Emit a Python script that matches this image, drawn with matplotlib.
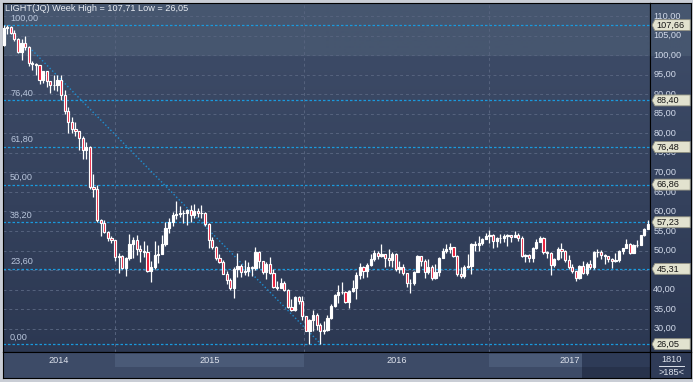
import numpy as np
import matplotlib
matplotlib.use('Agg')
import matplotlib.pyplot as plt
import matplotlib.transforms as mtransforms
from matplotlib.patches import Rectangle, Polygon
from matplotlib.colors import to_rgb

plt.rcParams['font.family'] = ['Liberation Sans', 'DejaVu Sans']

# weekly candles Jun 2014 - Nov 2017 (turn of 2014/15 comes as two short candles)
opens = [
    # 2014
    102.6, 106.9, 107.3, 105.7, 104.1, 100.8, 103.1, 102.1, 97.9, 97.7, 97.4, 93.7, 96.0, 93.3, 92.3,
    92.4, 93.5, 89.7, 85.8, 82.8, 81.0, 80.5, 78.7, 75.8, 76.5, 66.2, 65.8, 57.8, 57.1,
    54.7, 53.3,
    # 2015
    52.7, 48.4, 48.7, 45.6, 48.2, 51.7, 52.8, 50.3, 49.8, 49.6, 44.8, 45.7, 48.9, 49.1, 51.6, 55.7,
    57.2, 59.2, 59.4, 59.7, 59.7, 60.3, 59.1, 60.0, 59.6, 59.6, 56.9, 52.7, 50.9, 48.1, 47.1, 43.9,
    42.5, 40.5, 45.2, 46.1, 44.6, 44.7, 45.7, 45.5, 49.6, 47.3, 44.6, 46.6, 44.3, 40.7, 40.4, 41.7,
    40.0, 35.6, 34.7, 38.1,
    # 2016
    37.0, 33.2, 29.4, 32.2, 33.6, 30.9, 29.4, 29.6, 32.8, 35.9, 38.5, 39.4, 39.5, 36.8, 39.7, 40.4,
    43.7, 45.9, 44.7, 46.2, 47.8, 49.3, 48.6, 49.1, 48.0, 47.6, 49.0, 45.4, 45.9, 44.2, 41.6, 41.8,
    44.5, 48.5, 47.3, 44.4, 45.9, 43.0, 44.5, 48.2, 49.8, 50.4, 50.9, 48.7, 44.1, 43.4, 45.7, 46.1,
    51.7, 51.5, 51.9, 53.0,
    # 2017
    53.7, 54.0, 52.4, 53.2, 53.2, 53.8, 53.9, 53.4, 54.0, 53.3, 48.5, 48.8, 48.0, 50.6, 52.2, 53.2,
    49.6, 49.3, 46.2, 47.8, 50.3, 49.8, 47.7, 45.8, 44.7, 43.0, 46.0, 44.2, 46.5, 45.8, 49.7, 49.6,
    48.8, 48.5, 47.9, 47.3, 47.5, 49.9, 50.7, 51.7, 49.3, 51.5, 51.5, 53.9, 55.6,
]
highs = [
    107.7, 107.7, 107.5, 106.5, 104.3, 104.0, 105.0, 102.2, 98.5, 98.0, 97.5, 96.0, 96.0, 93.4, 95.0,
    95.0, 95.0, 91.0, 86.7, 84.1, 82.8, 80.7, 79.2, 77.8, 76.8, 69.7, 66.7, 58.0, 57.9,
    55.1, 53.6,
    52.7, 49.3, 48.9, 48.3, 54.2, 53.4, 54.0, 51.3, 52.5, 51.3, 47.3, 52.5, 51.4, 54.0, 57.4, 58.4,
    59.9, 62.6, 61.4, 60.4, 60.5, 61.7, 61.8, 61.0, 61.6, 59.8, 57.0, 53.5, 51.2, 49.1, 47.6, 44.7,
    42.9, 45.9, 49.3, 46.5, 47.7, 47.0, 46.0, 50.9, 49.9, 47.4, 47.0, 48.4, 45.3, 42.2, 43.0, 42.3,
    40.1, 37.7, 38.3, 38.4,
    38.4, 33.2, 32.4, 34.8, 34.0, 31.5, 31.9, 33.5, 36.4, 38.8, 41.2, 41.9, 39.6, 39.8, 42.4, 44.5,
    46.8, 46.0, 46.9, 49.0, 50.2, 50.0, 51.7, 49.1, 50.5, 49.5, 49.3, 47.4, 46.5, 44.2, 42.6, 44.8,
    48.8, 48.7, 47.8, 47.8, 46.2, 46.6, 48.3, 50.7, 51.6, 51.9, 51.0, 48.8, 45.9, 46.2, 49.2, 51.8,
    52.4, 53.8, 53.2, 54.4,
    55.2, 54.1, 53.5, 54.3, 54.1, 54.1, 54.0, 54.9, 54.6, 53.8, 49.1, 49.0, 50.9, 52.9, 53.8, 53.4,
    49.8, 49.5, 48.0, 50.8, 52.0, 50.2, 48.8, 46.5, 44.7, 46.2, 47.3, 47.0, 47.5, 49.8, 50.4, 50.2,
    49.0, 48.7, 48.0, 49.4, 50.2, 50.7, 52.9, 51.8, 51.6, 52.8, 54.0, 55.7, 57.7,
]
lows = [
    102.4, 105.5, 105.3, 103.6, 100.6, 98.8, 101.4, 97.1, 96.3, 95.0, 92.5, 92.8, 91.9, 90.4, 91.0,
    90.9, 88.6, 84.8, 80.0, 80.1, 79.4, 75.8, 73.3, 73.3, 65.7, 63.7, 57.3, 53.6, 54.5,
    52.4, 52.0,
    47.4, 44.2, 45.2, 43.6, 47.6, 48.2, 48.9, 47.0, 48.4, 44.4, 42.0, 45.4, 46.7, 49.0, 51.1, 54.6,
    56.2, 58.1, 58.7, 57.1, 56.5, 57.2, 58.2, 58.7, 58.4, 56.4, 50.6, 50.4, 47.7, 46.7, 43.9, 41.4,
    39.9, 37.8, 43.2, 43.2, 43.7, 43.6, 43.6, 45.1, 45.6, 43.9, 42.6, 44.0, 40.5, 39.9, 40.3, 39.6,
    35.4, 34.5, 34.6, 36.4,
    32.1, 29.3, 26.2, 29.3, 29.6, 26.05, 28.6, 29.5, 32.6, 35.6, 36.6, 38.9, 36.5, 35.2, 39.3, 37.6,
    42.7, 43.0, 43.3, 46.0, 47.3, 47.8, 48.3, 45.8, 46.0, 45.8, 44.8, 44.3, 43.8, 40.6, 39.2, 41.1,
    44.4, 46.1, 43.0, 43.9, 42.5, 42.8, 43.4, 48.0, 49.4, 49.3, 48.4, 43.6, 43.0, 43.0, 45.6, 43.9,
    49.9, 49.9, 51.3, 52.9,
    51.8, 50.7, 50.9, 51.8, 52.3, 51.2, 52.1, 53.4, 52.5, 48.3, 47.1, 47.0, 47.1, 50.3, 52.2, 49.2,
    48.2, 43.8, 45.8, 47.6, 48.2, 47.0, 45.2, 44.2, 42.1, 42.8, 43.9, 43.8, 45.4, 45.4, 48.4, 47.8,
    46.5, 47.0, 45.6, 47.0, 47.0, 49.2, 50.6, 49.1, 49.3, 51.0, 51.3, 53.8, 55.6,
]
closes = [
    106.9, 107.3, 105.7, 104.1, 100.8, 103.1, 102.1, 97.9, 97.7, 97.4, 93.7, 96.0, 93.3, 92.3, 92.4,
    93.5, 89.7, 85.8, 82.8, 81.0, 80.5, 78.7, 75.8, 76.5, 66.2, 65.8, 57.8, 57.1, 54.7,
    53.3, 52.7,
    48.4, 48.7, 45.6, 48.2, 51.7, 52.8, 50.3, 49.8, 49.6, 44.8, 45.7, 48.9, 49.1, 51.6, 55.7, 57.2,
    59.2, 59.4, 59.7, 59.7, 60.3, 59.1, 60.0, 59.6, 59.6, 56.9, 52.7, 50.9, 48.1, 47.1, 43.9, 42.5,
    40.5, 45.2, 46.1, 44.6, 44.7, 45.7, 45.5, 49.6, 47.3, 44.6, 46.6, 44.3, 40.7, 40.4, 41.7, 40.0,
    35.6, 34.7, 38.1, 37.0,
    33.2, 29.4, 32.2, 33.6, 30.9, 29.4, 29.6, 32.8, 35.9, 38.5, 39.4, 39.5, 36.8, 39.7, 40.4, 43.7,
    45.9, 44.7, 46.2, 47.8, 49.3, 48.6, 49.1, 48.0, 47.6, 49.0, 45.4, 45.9, 44.2, 41.6, 41.8, 44.5,
    48.5, 47.3, 44.4, 45.9, 43.0, 44.5, 48.2, 49.8, 50.4, 50.9, 48.7, 44.1, 43.4, 45.7, 46.1, 51.7,
    51.5, 51.9, 53.0, 53.7,
    54.0, 52.4, 53.2, 53.2, 53.8, 53.9, 53.4, 54.0, 53.3, 48.5, 48.8, 48.0, 50.6, 52.2, 53.2, 49.6,
    49.3, 46.2, 47.8, 50.3, 49.8, 47.7, 45.8, 44.7, 43.0, 46.0, 44.2, 46.5, 45.8, 49.7, 49.6, 48.8,
    48.5, 47.9, 47.3, 47.5, 49.9, 50.7, 51.7, 49.3, 51.5, 51.5, 53.9, 55.6, 56.7,
]

fib_ratios = ['100,00', '76,40', '61,80', '50,00', '38,20', '23,60', '0,00']
fib_prices = [107.66, 88.40, 76.48, 66.86, 57.23, 45.31, 26.05]
fib_tags = ['107,66', '88,40', '76,48', '66,86', '57,23', '45,31', '26,05']
price_ticks = [30, 35, 40, 45, 50, 55, 60, 65, 70, 75, 80, 85, 90, 95, 100, 105, 110]
years = ['2014', '2015', '2016', '2017']
year_starts = [31, 83.5, 135]      # first candle of each new year
axis_band_end = 160.7
trend_x = [7.9, 88.2]
trend_y = [101.3, 26.05]
title = 'LIGHT(JQ) Week High = 107,71 Low = 26,05'

W, H = 693, 382
XLIM = (-0.14, 179.6)
YLIM = (24.04, 113.32)
txt_col = '#dde2ec'
fs = 6.6


def box(x0, y0, x1, y1):
    return [x0 / W, 1 - y1 / H, (x1 - x0) / W, (y1 - y0) / H]


def gradient(a):
    n = 349
    top, c1, c2 = np.array(to_rgb('#46566f')), np.array(to_rgb('#3c4a66')), np.array(to_rgb('#2c3852'))
    img = np.zeros((n, 1, 3))
    for r in range(n):
        if r < 54:
            img[r, 0] = top
        else:
            t = (r - 54) / (n - 54)
            img[r, 0] = c1 * (1 - t) + c2 * t
    a.imshow(img, extent=[0, 1, 0, 1], transform=a.transAxes, aspect='auto', zorder=0)


fig = plt.figure(figsize=(W / 100, H / 100), dpi=100, facecolor='#c9cdd5')
ax = fig.add_axes(box(3, 3, 650, 352))
ax_r = fig.add_axes(box(650, 3, 691, 352))
ax_b = fig.add_axes(box(3, 352, 650, 378))
ax_c = fig.add_axes(box(650, 352, 691, 378))

gradient(ax)
gradient(ax_r)

o = np.array(opens)
h = np.array(highs)
l = np.array(lows)
c = np.array(closes)
x = np.arange(len(c))

# grid
for p in price_ticks:
    ax.axhline(p, color='#56637e', lw=0.7, ls=(0, (3, 3)), zorder=1)
for ys in year_starts:
    ax.axvline(ys, color='#56637e', lw=0.7, ls=(0, (3, 3)), zorder=1)

# fibonacci levels
for r, p in zip(fib_ratios, fib_prices):
    ax.axhline(p, color='#1a9ade', lw=0.9, ls=(0, (2, 1.6)), zorder=2)
    ax.annotate(r, xy=(0.011, p), xycoords=ax.get_yaxis_transform(), xytext=(0, 2),
                textcoords='offset points', va='bottom', ha='left', color='#b9c6dc', fontsize=fs)

ax.plot(trend_x, trend_y, color='#1e8fd2', lw=1.0, ls=(0, (1, 1.6)), zorder=2)

# candles
up = c >= o
ax.vlines(x, l, h, color='white', lw=0.9, zorder=3)
ax.bar(x, np.abs(c - o), bottom=np.minimum(o, c), width=0.62,
       color=np.where(up, 'white', '#e8102f'), edgecolor='white', linewidth=0.85, zorder=4)

ax.text(0.003, 0.997, title, transform=ax.transAxes, va='top', ha='left', color='#e8ecf2', fontsize=fs)

ax.set_xlim(*XLIM)
ax.set_ylim(*YLIM)

# right price scale (the fib tags sit on top of the scale, as in the original)
ax_r.set_xlim(0, 1)
ax_r.set_ylim(*YLIM)
bt = mtransforms.blended_transform_factory(ax_r.transAxes, ax_r.transData)
for p in price_ticks:
    ax_r.text(0.08, p, '%d,00' % p, transform=bt, va='center', ha='left', color='#d2daea', fontsize=fs)
for p, t in zip(fib_prices, fib_tags):
    ax_r.add_patch(Polygon([[0.05, p], [0.12, p + 1.4], [0.98, p + 1.4], [0.98, p - 1.4], [0.12, p - 1.4]],
                           closed=True, transform=bt, fc='#e2e2cf', ec='#8f8f80', lw=0.6, zorder=5))
    ax_r.text(0.16, p, t, transform=bt, va='center', ha='left', color='#151515', fontsize=fs, zorder=6)

# time axis
ax_b.set_xlim(*XLIM)
ax_b.set_ylim(0, 1)
ax_b.set_facecolor('#3d4b67')
edges = [XLIM[0]] + year_starts + [XLIM[1]]
ax_b.add_patch(Rectangle((year_starts[0], 0.42), year_starts[1] - year_starts[0], 0.5, fc='#4a5a77', lw=0))
ax_b.add_patch(Rectangle((year_starts[2], 0.42), axis_band_end - year_starts[2], 0.5, fc='#4a5a77', lw=0))
ax_b.add_patch(Rectangle((axis_band_end, 0.42), XLIM[1] - axis_band_end, 0.58, fc='#2e3b57', lw=0))
ax_b.add_patch(Rectangle((axis_band_end, 0), XLIM[1] - axis_band_end, 0.42, fc='#27324b', lw=0))
for i, yr in enumerate(years):
    ax_b.text((edges[i] + edges[i + 1]) / 2, 0.68, yr, ha='center', va='center', color=txt_col, fontsize=fs)

# corner
ax_c.set_xlim(0, 1)
ax_c.set_ylim(0, 1)
ax_c.set_facecolor('#2f3b57')
ax_c.text(0.53, 0.72, '1810', ha='center', va='center', color=txt_col, fontsize=fs)
ax_c.plot([0.22, 0.83], [0.46, 0.46], color=txt_col, lw=0.7)
ax_c.text(0.53, 0.2, '>185<', ha='center', va='center', color=txt_col, fontsize=fs)

for a in (ax, ax_r, ax_b, ax_c):
    a.set_xticks([])
    a.set_yticks([])
    for s in a.spines.values():
        s.set_color('black')
        s.set_linewidth(0.8)

fig.savefig('out.png', dpi=100, facecolor=fig.get_facecolor())
